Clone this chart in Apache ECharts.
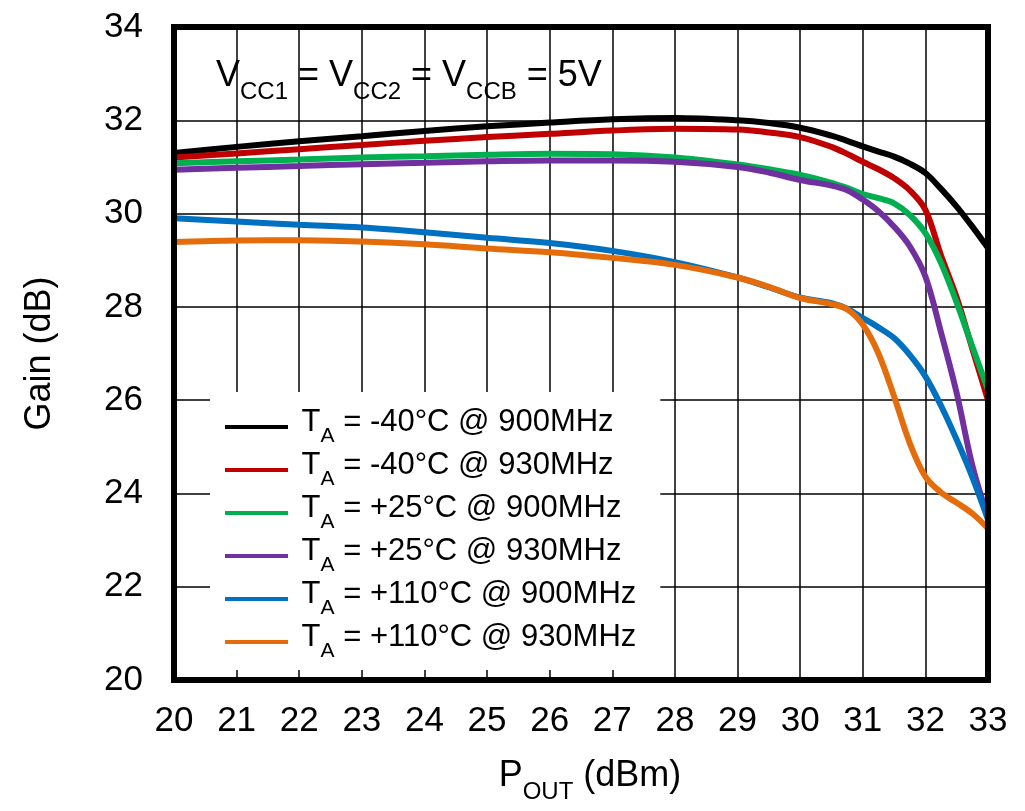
<!DOCTYPE html>
<html>
<head>
<meta charset="utf-8">
<script src="https://cdn.jsdelivr.net/npm/echarts@6/dist/echarts.min.js"></script>
<style>
html,body{margin:0;padding:0;background:#fff;}
#chart{width:1025px;height:811px;}
</style>
</head>
<body>
<div id="chart"></div>
<script>
// ---- data ----
var pout = [20, 21, 22, 23, 24, 25, 26, 27, 28, 29, 29.5, 30, 30.5, 30.75, 31, 31.25, 31.5, 31.75, 32, 32.25, 32.5, 32.75, 33];
var gainM40_900 = [31.3, 31.43, 31.55, 31.66, 31.77, 31.87, 31.95, 32.02, 32.05, 32.0, 31.94, 31.84, 31.67, 31.56, 31.44, 31.33, 31.22, 31.07, 30.87, 30.53, 30.15, 29.72, 29.26];
var gainM40_930 = [31.2, 31.29, 31.38, 31.47, 31.56, 31.64, 31.71, 31.78, 31.82, 31.8, 31.74, 31.64, 31.43, 31.28, 31.11, 30.95, 30.76, 30.5, 30.08, 29.1, 28.2, 27.1, 26.0];
var gainP25_900 = [31.08, 31.12, 31.16, 31.2, 31.23, 31.26, 31.28, 31.27, 31.2, 31.05, 30.95, 30.83, 30.66, 30.55, 30.42, 30.33, 30.22, 29.97, 29.58, 28.94, 28.09, 27.15, 26.22];
var gainP25_930 = [30.94, 30.98, 31.02, 31.06, 31.09, 31.12, 31.14, 31.14, 31.11, 31.0, 30.88, 30.72, 30.6, 30.5, 30.3, 30.05, 29.72, 29.3, 28.65, 27.45, 26.15, 24.6, 23.48];
var gainP110_900 = [29.9, 29.83, 29.76, 29.7, 29.6, 29.48, 29.37, 29.2, 28.96, 28.63, 28.42, 28.2, 28.08, 27.96, 27.76, 27.56, 27.33, 26.97, 26.51, 25.88, 25.15, 24.35, 23.44];
var gainP110_930 = [29.39, 29.42, 29.43, 29.4, 29.34, 29.25, 29.17, 29.05, 28.9, 28.63, 28.43, 28.19, 28.06, 27.95, 27.62, 27.0, 26.08, 25.08, 24.36, 24.02, 23.8, 23.57, 23.25];
var seriesLabels = ['-40°C @ 900MHz', '-40°C @ 930MHz', '+25°C @ 900MHz', '+25°C @ 930MHz', '+110°C @ 900MHz', '+110°C @ 930MHz'];
var seriesColors = ['#000000', '#C00000', '#00B050', '#7030A0', '#0070C0', '#E46C0A'];
var xTicks = {min: 20, max: 33, interval: 1};
var yTicks = {min: 20, max: 34, interval: 2};

var gains = [gainM40_900, gainM40_930, gainP25_900, gainP25_930, gainP110_900, gainP110_930];
var FONT = 'Arial, "Liberation Sans", sans-serif';

var series = gains.map(function (g, i) {
  return {
    name: seriesLabels[i],
    type: 'line',
    smooth: 0.35,
    showSymbol: false,
    symbol: 'none',
    color: seriesColors[i],
    lineStyle: {width: 6, color: seriesColors[i]},
    data: pout.map(function (x, j) { return [x, g[j]]; }),
    z: 3 + i
  };
});

var normBig = {fontFamily: FONT, fontSize: 36, color: '#000', fill: '#000', lineHeight: 44, verticalAlign: 'top'};
var subBig = {fontFamily: FONT, fontSize: 24, color: '#000', fill: '#000', padding: [22, 0, 0, 0], verticalAlign: 'top'};

var chart = echarts.init(document.getElementById('chart'), null, {renderer: 'canvas'});
chart.setOption({
  backgroundColor: '#ffffff',
  animation: false,
  grid: {left: 174, right: 37, top: 27, bottom: 131, show: true, borderColor: '#000', borderWidth: 6, backgroundColor: 'transparent', z: 10},
  xAxis: {
    type: 'value', min: xTicks.min, max: xTicks.max, interval: xTicks.interval,
    axisLine: {show: false}, axisTick: {show: false},
    splitLine: {show: true, lineStyle: {color: '#000', width: 1.5}},
    axisLabel: {fontFamily: FONT, fontSize: 35, color: '#000', margin: 24},
    name: '{n|P}{s|OUT}{n| (dBm)}',
    nameLocation: 'middle', nameGap: 78,
    nameTextStyle: {
      fontFamily: FONT, color: '#000', padding: [0, 0, 0, 18],
      rich: {n: normBig, s: subBig}
    }
  },
  yAxis: {
    type: 'value', min: yTicks.min, max: yTicks.max, interval: yTicks.interval,
    axisLine: {show: false}, axisTick: {show: false},
    splitLine: {show: true, lineStyle: {color: '#000', width: 1.5}},
    axisLabel: {fontFamily: FONT, fontSize: 35, color: '#000', margin: 31},
    name: 'Gain (dB)', nameLocation: 'middle', nameGap: 116, nameRotate: 90,
    nameTextStyle: {fontFamily: FONT, fontSize: 36, color: '#000'}
  },
  legend: {
    show: true, orient: 'vertical', left: 210, top: 392,
    backgroundColor: '#ffffff',
    padding: [15, 24, 8, 15],
    itemWidth: 63, itemHeight: 4, itemGap: 3, icon: 'rect',
    data: seriesLabels,
    formatter: function (name) { return '{n| T}{s|A}{n| = ' + name + '}'; },
    textStyle: {
      fontFamily: FONT, color: '#000',
      rich: {
        n: {fontFamily: FONT, fontSize: 31, color: '#000', lineHeight: 37, verticalAlign: 'top'},
        s: {fontFamily: FONT, fontSize: 21, color: '#000', padding: [19, 0, 0, 0], verticalAlign: 'top'}
      }
    },
    z: 20
  },
  graphic: [{
    type: 'text', left: 216, top: 58, z: 30,
    style: {
      text: '{n|V}{s|CC1}{n| = V}{s|CC2}{n| = V}{s|CCB}{n| = 5V}',
      fill: '#000', font: '36px ' + FONT,
      rich: {n: normBig, s: subBig}
    }
  }],
  series: series
});
</script>
</body>
</html>
